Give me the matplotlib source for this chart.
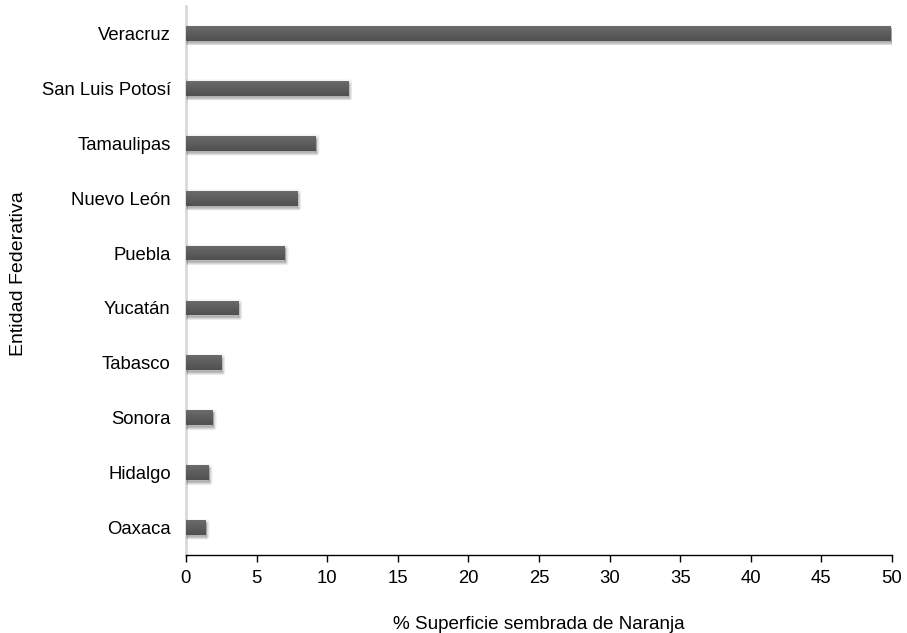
import numpy as np
import matplotlib
matplotlib.use("Agg")
import matplotlib.pyplot as plt
from matplotlib.colors import LinearSegmentedColormap
import matplotlib.transforms as mtransforms

plt.rcParams['font.family'] = ['Liberation Sans', 'DejaVu Sans']

entidades = ["Veracruz", "San Luis Potosí", "Tamaulipas", "Nuevo León", "Puebla",
             "Yucatán", "Tabasco", "Sonora", "Hidalgo", "Oaxaca"]
superficie = [49.9, 11.5, 9.2, 7.9, 7.0, 3.7, 2.5, 1.9, 1.6, 1.4]
xticks = [0, 5, 10, 15, 20, 25, 30, 35, 40, 45, 50]

fig = plt.figure(figsize=(9.07, 6.33), dpi=100)
ax = fig.add_axes([0.205, 0.1232, 0.7785, 0.8673])

pos = np.arange(len(entidades))[::-1]
bar_h = 0.27

# soft drop shadow: translucent layers shifted down-right
layers = [(1.0, -1.5, 4, 0.04), (1.5, -2.5, 3, 0.05), (1.5, -3.0, 1.5, 0.07), (1.0, -2.0, 0, 0.10)]
for dx, dy, lw, a in layers:
    off = mtransforms.offset_copy(ax.transData, fig=fig, x=dx, y=dy, units='dots')
    ax.barh(pos, superficie, height=bar_h, left=0, color=(0, 0, 0, a),
            edgecolor=(0, 0, 0, a), linewidth=lw, joinstyle='round',
            transform=off, zorder=1)

bars = ax.barh(pos, superficie, height=bar_h, left=0, color='#5e5e5e',
               linewidth=0, zorder=2)

# vertical shading inside each bar
cmap = LinearSegmentedColormap.from_list("shade", ["#505050", "#5d5d5d", "#6b6b6b"])
grad = np.linspace(0, 1, 64).reshape(-1, 1)
for b in bars:
    x0, y0, w, h = b.get_x(), b.get_y(), b.get_width(), b.get_height()
    im = ax.imshow(grad, cmap=cmap, aspect='auto', origin='lower',
                   extent=(x0, x0 + w, y0, y0 + h), zorder=3, interpolation='bilinear')
    im.set_clip_path(b)

ax.set_xlim(0, 50)
ax.set_ylim(-0.5, len(entidades) - 0.5)
ax.set_yticks(pos)
ax.set_yticklabels(entidades, fontsize=13.3)
ax.set_xticks(xticks)
ax.set_xticklabels([str(t) for t in xticks], fontsize=13.3)

for s in ['top', 'right']:
    ax.spines[s].set_visible(False)
ax.spines['left'].set_color('#d9d9d9')
ax.spines['left'].set_linewidth(2)
ax.spines['left'].set_zorder(0.5)
ax.spines['bottom'].set_color('#000000')
ax.spines['bottom'].set_linewidth(1.0)

ax.tick_params(axis='y', length=0, pad=11)
ax.tick_params(axis='x', direction='out', length=5, width=1, pad=6)

ax.set_xlabel("% Superficie sembrada de Naranja", fontsize=13.6, labelpad=21)
ax.set_ylabel("Entidad Federativa", fontsize=14)
ax.yaxis.set_label_coords(-0.225, 0.513)

fig.savefig("out.png", dpi=100)
